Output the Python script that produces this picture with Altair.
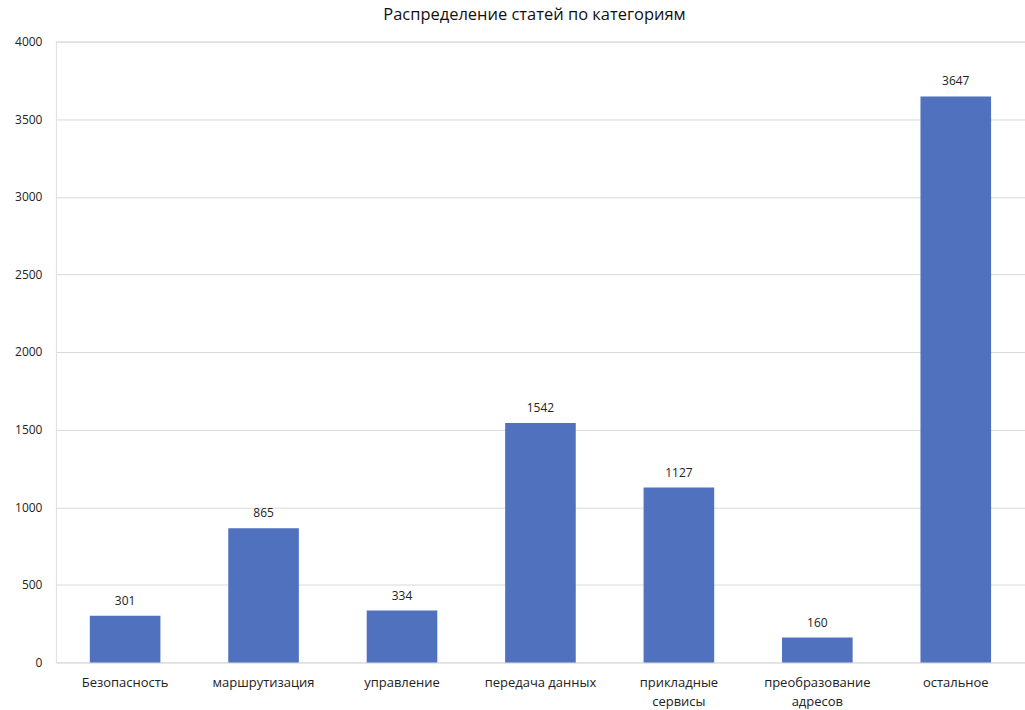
import altair as alt
import pandas as pd

# Article counts per category
categories = [
    "Безопасность",
    "маршрутизация",
    "управление",
    "передача данных",
    "прикладные сервисы",
    "преобразование адресов",
    "остальное",
]
counts = [301, 865, 334, 1542, 1127, 160, 3647]

# Axis labels that wrap onto two lines
wrapped = {
    "прикладные сервисы": ["прикладные", "сервисы"],
    "преобразование адресов": ["преобразование", "адресов"],
}

df = pd.DataFrame({"category": categories, "count": counts})

label_expr = "datum.value"
for name, lines in wrapped.items():
    arr = "[" + ", ".join(f"'{s}'" for s in lines) + "]"
    label_expr = f"datum.value == '{name}' ? {arr} : ({label_expr})"

FONT = "Open Sans"
BAR = "#4F71BE"

x = alt.X(
    "category:N",
    sort=categories,
    title=None,
    scale=alt.Scale(paddingInner=0.49, paddingOuter=0.245),
    axis=alt.Axis(
        labelAngle=0,
        labelExpr=label_expr,
        labelFont=FONT,
        labelFontSize=13,
        labelColor="#222222",
        labelPadding=14,
        labelLineHeight=19,
        labelBaseline="top",
        domain=False,
        ticks=False,
        grid=False,
    ),
)
y = alt.Y(
    "count:Q",
    title=None,
    scale=alt.Scale(domain=[0, 4000], nice=False),
    axis=alt.Axis(
        values=list(range(0, 4001, 500)),
        format="d",
        labelFont=FONT,
        labelFontSize=12,
        labelColor="#222222",
        labelPadding=14,
        domain=False,
        ticks=False,
        gridColor="#D9D9D9",
        gridWidth=1,
    ),
)

bars = alt.Chart(df).mark_bar(color=BAR).encode(x=x, y=y)
labels = alt.Chart(df).mark_text(
    font=FONT, fontSize=12, color="#222222", baseline="bottom", dy=-8
).encode(x=alt.X("category:N", sort=categories), y="count:Q", text="count:Q")

chart = (
    alt.layer(bars, labels)
    .properties(
        width=971,
        height=622,
        title=alt.TitleParams(
            "Распределение статей по категориям",
            font=FONT,
            fontSize=16.5,
            fontWeight="normal",
            color="#111111",
            offset=12,
            dx=-6,
        ),
        autosize=alt.AutoSizeParams(type="none"),
        padding={"left": 56, "top": 41, "right": 0, "bottom": 47},
    )
    .configure_view(stroke=None)
    .configure(background="white")
)

chart.save("out.html", embed_options={"renderer": "svg", "actions": False})
